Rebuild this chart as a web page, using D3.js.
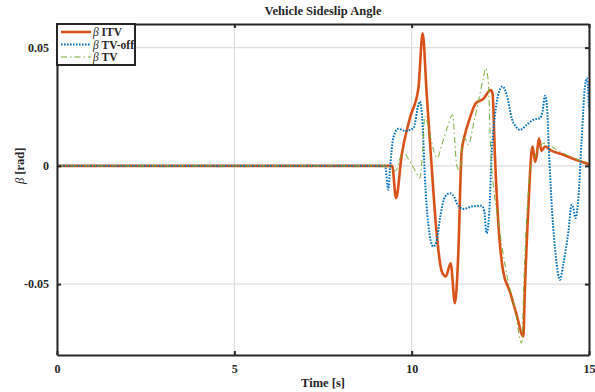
<!DOCTYPE html>
<html>
<head>
<meta charset="utf-8">
<script src="https://cdn.jsdelivr.net/npm/d3@7"></script>
<style>
  body { margin: 0; background: #fff; }
  text { font-family: "Liberation Serif", "Times New Roman", serif; font-weight: bold; fill: #262626; }
</style>
</head>
<body>
<div id="chart"></div>
<script>
// time [s] and sideslip [rad]
const itvT = [0, 5, 9.2, 9.45, 9.56, 9.72, 9.95, 10.19, 10.31, 10.42, 10.56, 10.70, 10.85, 10.96, 11.10, 11.22, 11.31, 11.41, 11.50, 11.64, 11.81, 12.02, 12.23, 12.28, 12.35, 12.44, 12.58, 12.77, 12.96, 13.15, 13.19, 13.29, 13.38, 13.41, 13.48, 13.52, 13.59, 13.66, 13.76, 13.90, 14.27, 14.65, 15.0];
const itvV = [0, 0, 0, 0, -0.0137, 0.0047, 0.0202, 0.0329, 0.0561, 0.0314, 0.0004, -0.0278, -0.0447, -0.0468, -0.0412, -0.0581, -0.0389, 0.0061, 0.0131, 0.0202, 0.0265, 0.0283, 0.0321, 0.0307, 0.0033, -0.0235, -0.0447, -0.0532, -0.063, -0.0722, -0.0532, -0.0179, 0.0061, 0.0082, 0.0018, 0.0039, 0.0117, 0.0063, 0.0082, 0.0068, 0.0047, 0.0025, 0.0007];

const offT = [0, 5, 9.25, 9.34, 9.39, 9.48, 9.62, 9.81, 10.05, 10.19, 10.23, 10.31, 10.37, 10.47, 10.61, 10.70, 10.80, 10.94, 11.08, 11.22, 11.27, 11.46, 11.69, 11.97, 12.05, 12.11, 12.19, 12.25, 12.35, 12.44, 12.56, 12.68, 12.82, 12.96, 13.05, 13.24, 13.43, 13.62, 13.69, 13.76, 13.81, 13.88, 13.96, 14.07, 14.18, 14.27, 14.42, 14.51, 14.56, 14.62, 14.70, 14.79, 14.89, 14.94, 15.0];
const offV = [0, 0, 0, -0.0101, -0.001, 0.0117, 0.0157, 0.0148, 0.0159, 0.0258, 0.0272, 0.0173, -0.0038, -0.025, -0.0341, -0.032, -0.0221, -0.013, -0.0116, -0.0137, -0.0158, -0.0183, -0.0172, -0.0169, -0.0193, -0.0285, -0.0193, 0.0033, 0.0216, 0.030, 0.0336, 0.030, 0.0202, 0.0162, 0.0152, 0.0173, 0.0195, 0.0202, 0.023, 0.0297, 0.0258, 0.0033, -0.0193, -0.039, -0.0482, -0.0419, -0.0278, -0.0165, -0.0179, -0.0221, -0.0137, 0.0103, 0.0343, 0.0371, 0.0244];

const tvT = [0, 5, 9.3, 9.55, 9.75, 9.95, 10.14, 10.23, 10.31, 10.37, 10.52, 10.63, 10.72, 10.85, 11.03, 11.15, 11.27, 11.36, 11.44, 11.50, 11.60, 11.74, 11.88, 12.02, 12.09, 12.16, 12.23, 12.30, 12.40, 12.54, 12.72, 12.91, 13.10, 13.17, 13.26, 13.38, 13.48, 13.57, 13.76, 14.09, 14.56, 15.0];
const tvV = [0, 0, 0, -0.002, 0.006, 0.0018, -0.0031, -0.0052, 0.006, 0.0209, 0.0131, 0.006, 0.0033, 0.0089, 0.0173, 0.0216, 0.0004, -0.0024, 0.011, 0.0117, 0.0089, 0.0173, 0.0272, 0.0371, 0.0413, 0.0357, 0.006, -0.008, -0.0193, -0.0334, -0.0489, -0.0602, -0.075, -0.0461, -0.0179, 0.0018, 0.0039, 0.0075, 0.0096, 0.0068, 0.0033, 0.0011];

const xTicks = [0, 5, 10, 15];
const yTicks = [-0.05, 0, 0.05];

const series = [
  { name: 'ITV', t: itvT, v: itvV, color: '#D95319', width: 2.6, dash: null },
  { name: 'TV-off', t: offT, v: offV, color: '#0072BD', width: 2, dash: '1.6,1.4' },
  { name: 'TV', t: tvT, v: tvV, color: '#77AC30', width: 1, dash: '6,3,1.5,3' }
];

const W = 595, H = 392;
const margin = { top: 24, right: 6, bottom: 37, left: 57 };

const svg = d3.select('#chart').append('svg')
  .attr('width', W).attr('height', H);

const x = d3.scaleLinear().domain([0, 15]).range([margin.left, W - margin.right]);
const y = d3.scaleLinear().domain([-0.08, 0.06]).range([H - margin.bottom, margin.top]);

// grid
svg.append('g')
  .selectAll('line.gx')
  .data(xTicks)
  .enter().append('line')
  .attr('x1', d => x(d)).attr('x2', d => x(d))
  .attr('y1', y.range()[1]).attr('y2', y.range()[0])
  .attr('stroke', '#dedede').attr('stroke-width', 1.2);

svg.append('g')
  .selectAll('line.gy')
  .data(yTicks)
  .enter().append('line')
  .attr('y1', d => y(d)).attr('y2', d => y(d))
  .attr('x1', x.range()[0]).attr('x2', x.range()[1])
  .attr('stroke', '#dedede').attr('stroke-width', 1.2);

// lines
const clipId = 'plotclip';
svg.append('clipPath').attr('id', clipId)
  .append('rect')
  .attr('x', x.range()[0]).attr('y', y.range()[1])
  .attr('width', x.range()[1] - x.range()[0])
  .attr('height', y.range()[0] - y.range()[1]);

const line = d3.line()
  .x(d => x(d[0]))
  .y(d => y(d[1]))
  .curve(d3.curveMonotoneX);

// plotting order as in the figure: ITV, TV-off, TV
series.forEach(s => {
  svg.append('path')
    .datum(s.t.map((t, i) => [t, s.v[i]]))
    .attr('clip-path', `url(#${clipId})`)
    .attr('fill', 'none')
    .attr('stroke', s.color)
    .attr('stroke-width', s.width)
    .attr('stroke-dasharray', s.dash)
    .attr('stroke-linejoin', 'round')
    .attr('d', line);
});

// axes
const tickFmt = d => d === 0 ? '0' : d3.format('.2f')(d).replace('−', '-');

const xAxis = svg.append('g')
  .attr('transform', `translate(0,${y.range()[0]})`)
  .call(d3.axisBottom(x).tickValues(xTicks).tickSizeInner(-4).tickSizeOuter(0).tickPadding(9).tickFormat(d3.format('d')));
const xAxisTop = svg.append('g')
  .attr('transform', `translate(0,${y.range()[1]})`)
  .call(d3.axisTop(x).tickValues(xTicks).tickSizeInner(-4).tickSizeOuter(0).tickFormat(''));
const yAxis = svg.append('g')
  .attr('transform', `translate(${x.range()[0]},0)`)
  .call(d3.axisLeft(y).tickValues(yTicks).tickSizeInner(-4).tickSizeOuter(0).tickPadding(8).tickFormat(tickFmt));
const yAxisRight = svg.append('g')
  .attr('transform', `translate(${x.range()[1]},0)`)
  .call(d3.axisRight(y).tickValues(yTicks).tickSizeInner(-4).tickSizeOuter(0).tickFormat(''));

[xAxis, xAxisTop, yAxis, yAxisRight].forEach(g => {
  g.select('.domain').attr('stroke', '#262626').attr('stroke-width', 2);
  g.selectAll('.tick line').attr('stroke', '#262626').attr('stroke-width', 2);
  g.selectAll('.tick text')
    .attr('fill', '#262626')
    .attr('font-family', '"Liberation Serif", serif')
    .attr('font-weight', 'bold')
    .attr('font-size', '12px');
});

// titles
svg.append('text')
  .attr('x', (x.range()[0] + x.range()[1]) / 2)
  .attr('y', 15)
  .attr('text-anchor', 'middle')
  .attr('font-size', '12.5px')
  .text('Vehicle Sideslip Angle');

svg.append('text')
  .attr('x', (x.range()[0] + x.range()[1]) / 2)
  .attr('y', 387)
  .attr('text-anchor', 'middle')
  .attr('font-size', '12.5px')
  .text('Time [s]');

const yl = svg.append('text')
  .attr('transform', `translate(24,${y(0)}) rotate(-90)`)
  .attr('text-anchor', 'middle')
  .attr('font-size', '12.5px');
yl.append('tspan').attr('font-style', 'italic').attr('font-weight', 'normal').text('β');
yl.append('tspan').text(' [rad]');

// legend
const lg = svg.append('g').attr('transform', `translate(${x.range()[0]},${y.range()[1]})`);
lg.append('rect')
  .attr('width', 78).attr('height', 41)
  .attr('fill', '#fff')
  .attr('stroke', '#262626').attr('stroke-width', 2);

series.forEach((s, i) => {
  const cy = 8 + i * 12.5;
  lg.append('line')
    .attr('x1', 4).attr('x2', 34)
    .attr('y1', cy).attr('y2', cy)
    .attr('stroke', s.color)
    .attr('stroke-width', s.width)
    .attr('stroke-dasharray', s.dash);
  const t = lg.append('text')
    .attr('x', 36).attr('y', cy + 4)
    .attr('font-size', '11.5px');
  t.append('tspan').attr('font-style', 'italic').attr('font-weight', 'normal').text('β');
  t.append('tspan').text(' ' + s.name);
});
</script>
</body>
</html>
